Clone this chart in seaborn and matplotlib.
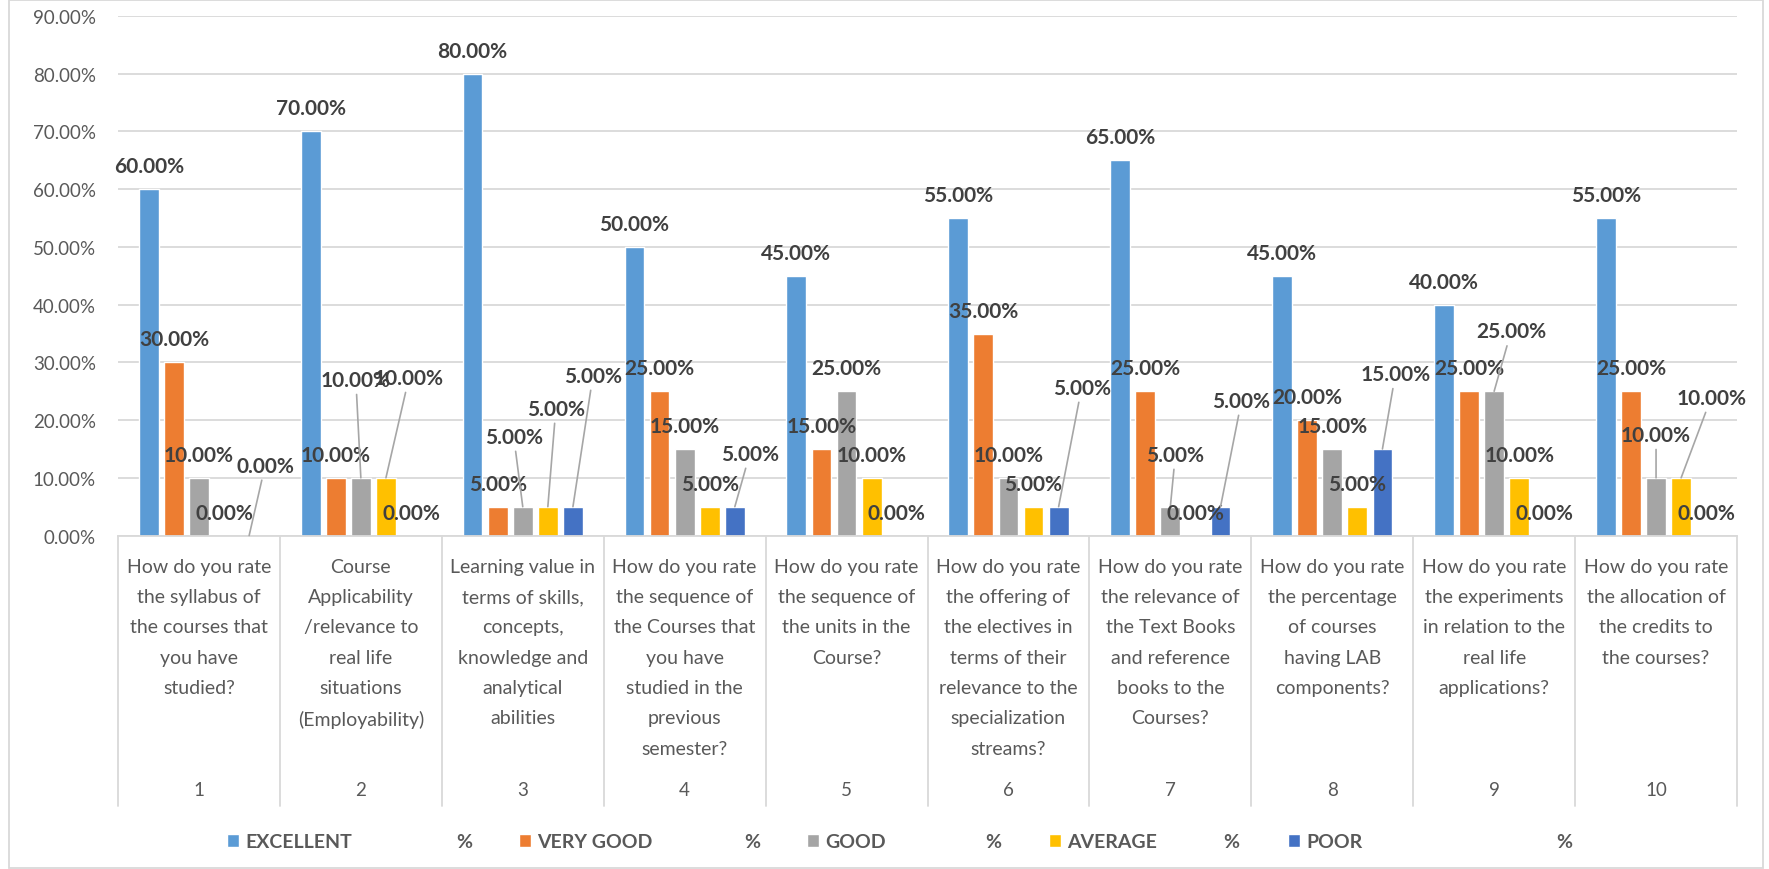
import pandas as pd
import matplotlib.pyplot as plt
import matplotlib.transforms as mtransforms
from matplotlib.patches import Rectangle
import seaborn as sns

# survey questions (x axis), one per course feedback item
questions = [
    "How do you rate\nthe syllabus of\nthe courses that\nyou have\nstudied?",
    "Course\nApplicability\n/relevance to\nreal life\nsituations\n(Employability)",
    "Learning value in\nterms of skills,\nconcepts,\nknowledge and\nanalytical\nabilities",
    "How do you rate\nthe sequence of\nthe Courses that\nyou have\nstudied in the\nprevious\nsemester?",
    "How do you rate\nthe sequence of\nthe units in the\nCourse?",
    "How do you rate\nthe offering of\nthe electives in\nterms of their\nrelevance to the\nspecialization\nstreams?",
    "How do you rate\nthe relevance of\nthe Text Books\nand reference\nbooks to the\nCourses?",
    "How do you rate\nthe percentage\nof courses\nhaving LAB\ncomponents?",
    "How do you rate\nthe experiments\nin relation to the\nreal life\napplications?",
    "How do you rate\nthe allocation of\nthe credits to\nthe courses?",
]
numbers = ["1", "2", "3", "4", "5", "6", "7", "8", "9", "10"]

ratings = ["EXCELLENT", "VERY GOOD", "GOOD", "AVERAGE", "POOR"]

excellent = [60, 70, 80, 50, 45, 55, 65, 45, 40, 55]
very_good = [30, 10, 5, 25, 15, 35, 25, 20, 25, 25]
good = [10, 10, 5, 15, 25, 10, 5, 15, 25, 10]
average = [0, 10, 5, 5, 10, 5, 0, 5, 10, 10]
poor = [0, 0, 5, 5, 0, 5, 5, 15, 0, 0]

colors = ["#5B9BD5", "#ED7D31", "#A5A5A5", "#FFC000", "#4472C4"]

rows = []
for rating, vals in zip(ratings, [excellent, very_good, good, average, poor]):
    for q, v in zip(questions, vals):
        rows.append({"question": q, "rating": rating, "value": v})
df = pd.DataFrame(rows)

sns.set_style("white")
plt.rcParams["font.family"] = ["Lato", "DejaVu Sans"]

W, H = 1769, 870
fig = plt.figure(figsize=(W / 100, H / 100), dpi=100)
ax = fig.add_axes([118 / W, 0.3833, 1619 / W, 0.5971])

sns.barplot(data=df, x="question", y="value", hue="rating", order=questions,
            hue_order=ratings, palette=colors, width=0.775, gap=0.21,
            errorbar=None, saturation=1, ax=ax)

ax.set_ylim(0, 90)
ax.set_xlim(-0.5, 9.5)
ax.set_yticks(range(0, 91, 10))
ax.set_yticklabels([f"{t:.2f}%" for t in range(0, 91, 10)], fontsize=13.5, color="#595959")
ax.tick_params(axis="y", length=0, pad=16)
ax.yaxis.grid(True, color="#D9D9D9", lw=1.3)
ax.set_axisbelow(True)
for s in ["left", "right", "top"]:
    ax.spines[s].set_visible(False)
ax.spines["bottom"].set_color("#D9D9D9")
ax.spines["bottom"].set_linewidth(1.3)
ax.set_xlabel("")
ax.set_ylabel("")

ax.set_xticks(range(len(questions)))
ax.set_xticklabels(questions, fontsize=14, color="#595959", linespacing=1.95)
ax.tick_params(axis="x", length=0, pad=16)

trans = mtransforms.blended_transform_factory(ax.transData, ax.transAxes)
for i in range(len(questions) + 1):
    ax.plot([i - 0.5, i - 0.5], [0, -0.52], transform=trans, color="#D9D9D9",
            lw=1.3, clip_on=False)
for i, n in enumerate(numbers):
    ax.text(i, -0.488, n, transform=trans, ha="center", va="center",
            fontsize=13.5, color="#595959")

# labels moved off the bars by hand (category, series): (dx px, height px above bar)
moved = {
    (0, 4): (16, 70), (1, 2): (-5, 98), (1, 3): (23, 100), (2, 2): (-9, 70),
    (2, 3): (8, 98), (2, 4): (20, 131), (3, 4): (15, 53), (5, 4): (23, 119),
    (6, 2): (5, 52), (6, 4): (21, 106), (7, 4): (13, 75), (8, 2): (17, 60),
    (9, 2): (0, 43), (9, 3): (30, 80),
}
for si, cont in enumerate(ax.containers):
    for ci, bar in enumerate(cont):
        h = bar.get_height()
        xc = bar.get_x() + bar.get_width() / 2
        dx, dy = moved.get((ci, si), (0, 23))
        arrow = None
        if (ci, si) in moved:
            arrow = dict(arrowstyle="-", color="#A6A6A6", lw=1.2, shrinkA=1, shrinkB=0)
        ax.annotate(f"{h:.2f}%", xy=(xc, h), xytext=(dx, dy), textcoords="offset pixels",
                    ha="center", va="center", fontsize=15, fontweight="bold",
                    color="#404040", arrowprops=arrow, annotation_clip=False)

# legend: one entry per rating, each followed by a detached "%" like the Excel headers
handles, _ = ax.get_legend_handles_labels()
ax.legend_.remove()
marker_x = [227, 519, 807, 1049, 1288]
pct_x = [456, 744, 985, 1223, 1556]
leg_y = 1 - 843 / H
for h, name, mx, px in zip(handles, ratings, marker_x, pct_x):
    fig.legend([h], [name], loc="center left", bbox_to_anchor=(mx / W, leg_y),
               frameon=False, prop={"weight": "bold", "size": 14},
               handlelength=0.6, handleheight=0.6, handletextpad=0.35,
               borderpad=0, borderaxespad=0, labelcolor="#595959")
    fig.text(px / W, leg_y, "%", ha="left", va="center", fontsize=14,
             fontweight="bold", color="#595959")

fig.patches.append(Rectangle((9 / W, 0.001), 1754 / W, 0.998, transform=fig.transFigure,
                             fill=False, edgecolor="#D9D9D9", lw=1.3))

fig.savefig("out.png", dpi=100, facecolor="white")
